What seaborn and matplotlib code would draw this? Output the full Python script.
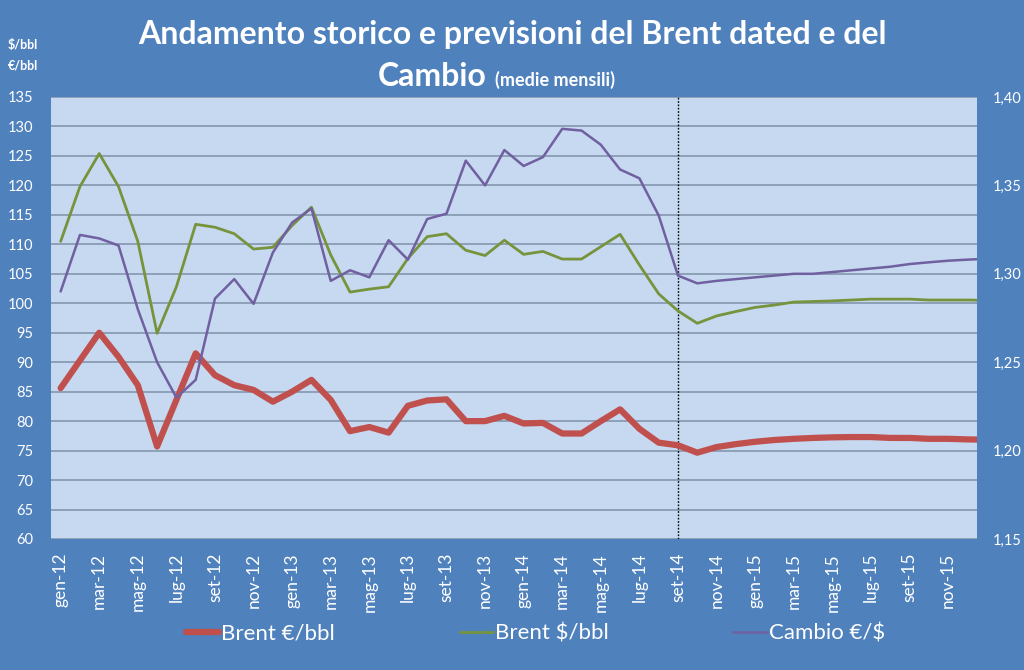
import numpy as np
import pandas as pd
import matplotlib
matplotlib.use("Agg")
import matplotlib.pyplot as plt
import seaborn as sns

# ---------------- data ----------------
month_names = ['gen', 'feb', 'mar', 'apr', 'mag', 'giu', 'lug', 'ago', 'set', 'ott', 'nov', 'dic']
years = ['12', '13', '14', '15']
months = [f"{m}-{y}" for y in years for m in month_names] + ['gen-16']

brent_eur = [85.6, 90.3, 95.0, 90.9, 86.1, 75.7, 83.6, 91.5, 87.8, 86.1, 85.3, 83.3,
             85.0, 87.0, 83.6, 78.3, 79.0, 78.05, 82.6, 83.5, 83.7, 80.0, 80.0, 80.9,
             79.6, 79.7, 77.9, 77.9, 80.0, 82.0, 78.7, 76.35, 75.9, 74.65, 75.6, 76.1,
             76.5, 76.8, 77.0, 77.15, 77.25, 77.3, 77.3, 77.15, 77.15, 77.0, 77.0, 76.9,
             76.85]
brent_usd = [110.5, 119.8, 125.4, 119.8, 110.5, 94.9, 102.8, 113.4, 112.9, 111.8, 109.2, 109.5,
             113.2, 116.3, 108.2, 101.9, 102.4, 102.8, 107.6, 111.3, 111.8, 109.0, 108.1, 110.7,
             108.3, 108.8, 107.5, 107.5, 109.6, 111.7, 106.5, 101.6, 98.7, 96.6, 97.85, 98.6,
             99.3, 99.7, 100.2, 100.3, 100.4, 100.55, 100.7, 100.7, 100.7, 100.55, 100.55, 100.55,
             100.5]
cambio = [1.290, 1.322, 1.320, 1.316, 1.280, 1.250, 1.230, 1.240, 1.286, 1.297, 1.283, 1.312,
          1.329, 1.337, 1.296, 1.302, 1.298, 1.319, 1.308, 1.331, 1.334, 1.364, 1.350, 1.370,
          1.361, 1.366, 1.382, 1.381, 1.373, 1.359, 1.354, 1.333, 1.299, 1.2946, 1.296, 1.297,
          1.298, 1.299, 1.300, 1.300, 1.301, 1.302, 1.303, 1.304, 1.3055, 1.3065, 1.3074, 1.308,
          1.3085]

left_ticks = list(range(60, 136, 5))
right_ticks = [1.15, 1.20, 1.25, 1.30, 1.35, 1.40]
forecast_start = 'set-14'

title_1 = "Andamento storico e previsioni del Brent dated e del"
title_2a = "Cambio"
title_2b = "(medie mensili)"
series_names = ['Brent €/bbl', 'Brent $/bbl', 'Cambio €/$']

df = pd.DataFrame({'idx': np.arange(len(months)), 'mese': months,
                   'eur': brent_eur, 'usd': brent_usd, 'cambio': cambio})

# ---------------- style ----------------
BG = '#4F81BD'
PLOT = '#C6D9F1'
GRID = '#7F8FA8'
RED = '#C0504D'
GREEN = '#77933C'
PURPLE = '#7060A0'
WHITE = 'white'

sns.set_style('white')
plt.rcParams['font.family'] = ['Lato', 'DejaVu Sans']

fig = plt.figure(figsize=(10.24, 6.7), dpi=100, facecolor=BG)
ax = fig.add_axes([51 / 1024, 1 - 539 / 670, 926 / 1024, 442 / 670])
ax.set_facecolor(PLOT)

sns.lineplot(data=df, x='idx', y='eur', ax=ax, color=RED, lw=4.5, label=series_names[0], legend=False)
sns.lineplot(data=df, x='idx', y='usd', ax=ax, color=GREEN, lw=2.0, label=series_names[1], legend=False)
ax.axvline(months.index(forecast_start), color='black', ls=(0, (1.2, 1.2)), lw=1.0, zorder=1)

ax2 = ax.twinx()
sns.lineplot(data=df, x='idx', y='cambio', ax=ax2, color=PURPLE, lw=1.8, label=series_names[2], legend=False)

ax.set_xlim(-0.5, 47.5)
ax.set_ylim(60, 135)
ax2.set_ylim(1.15, 1.40)

ax.set_yticks(left_ticks)
ax.set_yticklabels([str(t) for t in left_ticks])
ax2.set_yticks(right_ticks)
ax2.set_yticklabels([f"{t:.2f}".replace('.', ',') for t in right_ticks])

tick_idx = list(range(0, 47, 2))
ax.set_xticks(tick_idx)
ax.set_xticklabels([months[i] for i in tick_idx], rotation=90)

ax.yaxis.grid(True, color=GRID, lw=1.1)
ax.xaxis.grid(False)
ax2.grid(False)
ax.set_axisbelow(True)
for a in (ax, ax2):
    for s in a.spines.values():
        s.set_visible(False)
    a.set_xlabel('')
    a.set_ylabel('')

ax.tick_params(axis='y', length=0, pad=13, labelcolor=WHITE, labelsize=10.5)
ax2.tick_params(axis='y', length=0, pad=11, labelcolor=WHITE, labelsize=10.5)
ax.tick_params(axis='x', length=0, pad=10, labelcolor=WHITE, labelsize=12.5)

# titles
fig.text(0.5, 1 - 44 / 670, title_1, ha='center', va='baseline', color=WHITE,
         fontsize=23, fontweight='bold')
fig.text(487 / 1024, 1 - 86 / 670, title_2a, ha='right', va='baseline', color=WHITE,
         fontsize=23, fontweight='bold')
fig.text(495 / 1024, 1 - 86 / 670, title_2b, ha='left', va='baseline', color=WHITE,
         fontsize=13, fontweight='bold')
fig.text(8 / 1024, 1 - 45 / 670, '$/bbl', ha='left', va='center', color=WHITE,
         fontsize=9, fontweight='bold')
fig.text(8 / 1024, 1 - 66 / 670, '€/bbl', ha='left', va='center', color=WHITE,
         fontsize=9, fontweight='bold')

# legend
h1, l1 = ax.get_legend_handles_labels()
h2, l2 = ax2.get_legend_handles_labels()
leg = fig.legend(h1 + h2, l1 + l2, loc='center', bbox_to_anchor=(0.523, 1 - 634 / 670), ncol=3,
                 frameon=False, fontsize=16, handlelength=1.5, handletextpad=0.1,
                 columnspacing=5.6)
for t in leg.get_texts():
    t.set_color(WHITE)

fig.savefig('out.png', dpi=100, facecolor=BG)
